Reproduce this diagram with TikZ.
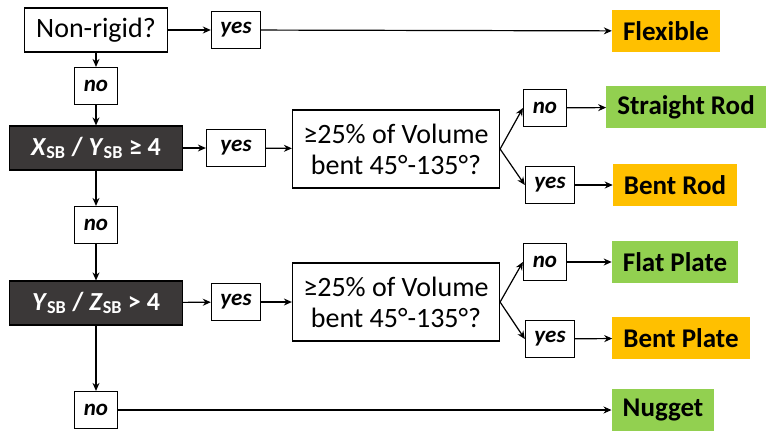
\documentclass[tikz,border=0pt]{standalone}
\usepackage{fontspec}
\setmainfont{Carlito}
\usetikzlibrary{arrows.meta}
\definecolor{goodgreen}{HTML}{92D050}
\definecolor{warnorange}{HTML}{FFC000}
\definecolor{darktest}{HTML}{3B3838}

\begin{document}
\begin{tikzpicture}[x=1pt,y=-1pt]
	\tikzset{question/.style={draw,line width=1.2pt,fill=white,align=center,
	    font=\fontsize{28}{31}\selectfont}}
	\tikzset{ratio/.style={draw=black,line width=1.2pt,fill=darktest,text=white,
	    font=\fontsize{26}{30}\selectfont\bfseries,minimum width=173pt,minimum height=44pt}}
	\tikzset{answer/.style={draw,line width=1.2pt,fill=white,inner xsep=9pt,inner ysep=0pt,
	    minimum width=43pt,minimum height=37pt,font=\fontsize{23}{26}\selectfont\bfseries\itshape}}
	\tikzset{result/.style={inner xsep=11pt,minimum height=42pt,
	    font=\fontsize{27}{30}\selectfont\bfseries}}
	\tikzset{>={Stealth[length=8pt,width=7pt]}}
	\useasboundingbox (0,0) rectangle (771,432);

	% vertices
	\node[question,minimum width=143pt,minimum height=44pt] (rigid) at (96,30) {Non-rigid?};
	\node[answer] (yes1) at (236,30) {yes};
	\node[result,fill=warnorange] (flex) at (666,31) {Flexible};
	\node[answer] (no1) at (96,86) {no};
	\node[ratio] (xy) at (96,148) {\textit{X}\textsubscript{SB} / \textit{Y}\textsubscript{SB} ≥ 4};
	\node[answer,minimum width=59pt] (yes2) at (236,148) {yes};
	\node[question,minimum width=207pt,minimum height=78pt] (vol1) at (396,149) {≥25\% of Volume\\bent 45°-135°?};
	\node[answer] (norod) at (545,108) {no};
	\node[answer] (yesrod) at (550,185) {yes};
	\node[result,fill=goodgreen] (straight) at (686,107) {Straight Rod};
	\node[result,fill=warnorange] (bentrod) at (675,185) {Bent Rod};
	\node[answer] (no2) at (96,225) {no};
	\node[ratio] (yz) at (96,303) {\textit{Y}\textsubscript{SB} / \textit{Z}\textsubscript{SB} > 4};
	\node[answer] (yes3) at (236,302) {yes};
	\node[question,minimum width=207pt,minimum height=78pt] (vol2) at (396,302) {≥25\% of Volume\\bent 45°-135°?};
	\node[answer] (noplate) at (545,262) {no};
	\node[answer] (yesplate) at (550,339) {yes};
	\node[result,fill=goodgreen] (flat) at (675,262) {Flat Plate};
	\node[result,fill=warnorange] (bentplate) at (681,338) {Bent Plate};
	\node[answer] (no3) at (96,410) {no};
	\node[result,fill=goodgreen] (nugget) at (663,410) {Nugget};

	% edges
	\begin{scope}[line width=1.2pt]
	\draw[->] (rigid) to (yes1);
	\draw[->] (yes1) to (flex);
	\draw[->] (rigid) to (no1);
	\draw[->] (no1) to (xy);
	\draw[->] (xy) to (yes2);
	\draw[->] (yes2) to (vol1);
	\draw[->] (vol1.east) to (norod.west);
	\draw[->] (vol1.east) to (yesrod.west);
	\draw[->] (norod) to (straight);
	\draw[->] (yesrod) to (bentrod);
	\draw[->] (xy) to (no2);
	\draw[->] (no2) to (yz);
	\draw[->] (yz) to (yes3);
	\draw[->] (yes3) to (vol2);
	\draw[->] (vol2.east) to (noplate.west);
	\draw[->] (vol2.east) to (yesplate.west);
	\draw[->] (noplate) to (flat);
	\draw[->] (yesplate) to (bentplate);
	\draw[->] (yz) to (no3);
	\draw[->] (no3) to (nugget);
	\end{scope}
\end{tikzpicture}
\end{document}
